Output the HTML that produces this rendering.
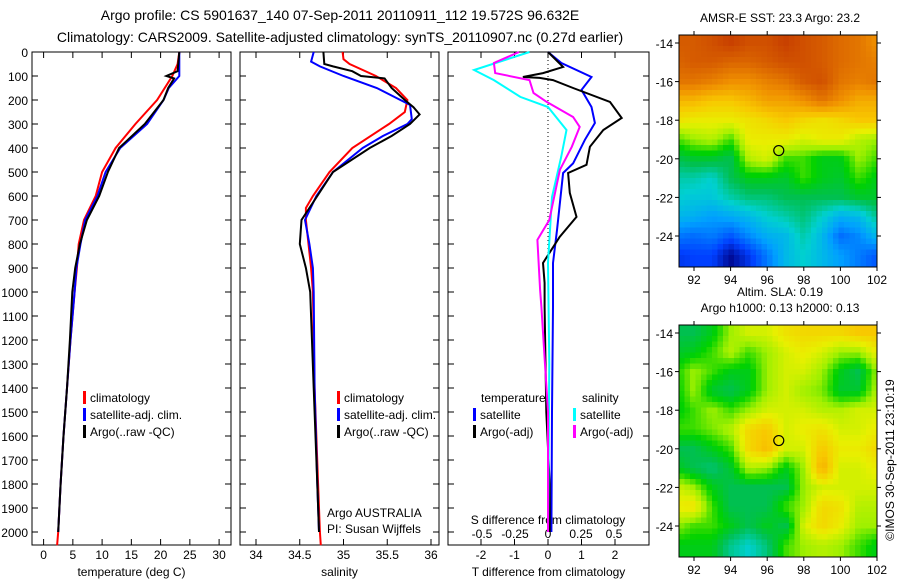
<!DOCTYPE html>
<html><head><meta charset="utf-8">
<style>
html,body{margin:0;padding:0;background:#fff;}
svg{display:block;font-family:"Liberation Sans",sans-serif;}
text{fill:#000;}
</style></head>
<body>
<svg id="fig" width="900" height="580" viewBox="0 0 900 580" xmlns="http://www.w3.org/2000/svg">
<g id="titles">
<text x="340" y="20" font-size="14" text-anchor="middle">Argo profile: CS 5901637_140 07-Sep-2011 20110911_112 19.572S 96.632E</text>
<text x="340" y="42" font-size="14" text-anchor="middle">Climatology: CARS2009. Satellite-adjusted climatology: synTS_20110907.nc (0.27d earlier)</text>
</g>
<g id="layer"></g>
</svg>
<script>
// ---------- Data ----------
const tempClimDepth=[0,50,100,200,300,400,500,600,700,800,900,1000,1200,1400,1600,1800,2000,2055];
const tempClim=[23.2,22.9,22.0,19.4,15.7,12.3,10.0,8.9,6.9,6.0,5.7,5.3,4.6,4.0,3.4,2.9,2.5,2.3];
const tempSatDepth=[0,100,150,200,300,400,500,600,700,800,900,1000,1200,1400,1600,1800,2000];
const tempSat=[23.2,23.2,21.4,20.5,17.7,13.1,10.6,9.2,7.1,6.3,5.6,5.3,4.6,4.0,3.4,2.9,2.5];
const tempArgoDepth=[0,80,100,110,150,200,300,400,500,600,700,800,900,1000,1200,1400,1600,1800,2000];
const tempArgo=[23.2,22.9,21.0,22.3,21.3,20.5,17.3,12.9,11.0,9.5,7.4,6.2,5.4,4.9,4.5,4.0,3.4,2.9,2.5];

const salClimDepth=[0,30,50,100,150,200,250,300,400,500,600,650,700,800,900,1000,1400,1800,2000,2055];
const salClim=[34.99,35.0,35.07,35.37,35.6,35.73,35.70,35.52,35.10,34.84,34.65,34.57,34.57,34.6,34.63,34.65,34.67,34.71,34.73,34.74];
const salSatDepth=[0,40,60,100,150,200,220,280,300,350,400,500,600,700,800,900,1000,1400,1800,2000];
const salSat=[34.66,34.63,34.73,35.0,35.38,35.65,35.76,35.78,35.73,35.45,35.22,34.88,34.69,34.56,34.61,34.65,34.66,34.67,34.70,34.72];
const salArgoDepth=[0,50,60,80,100,110,150,200,230,260,300,350,400,500,600,700,800,900,1000,1400,1800,2000];
const salArgo=[34.77,34.78,34.88,35.1,35.2,35.47,35.55,35.7,35.8,35.87,35.76,35.55,35.3,34.88,34.7,34.52,34.5,34.57,34.62,34.66,34.70,34.72];

const dTSatDepth=[0,46,104,158,229,296,366,464,504,742,879,1062,1500,2000];
const dTSat=[0,0.4,1.3,1.0,1.3,1.4,1.1,0.75,0.45,0.27,0.15,0.15,0.12,0.1];
const dTArgoDepth=[0,62,88,104,108,117,150,208,275,325,395,470,504,587,687,770,879,962,1062,1500,1800,2000];
const dTArgo=[0,0.45,-0.15,-0.75,-0.25,0.15,0.75,1.85,2.2,1.65,1.25,1.15,0.6,0.65,0.85,0.35,-0.15,-0.1,-0.1,-0.05,0.05,0.05];
const dSSatDepth=[0,75,117,187,229,325,437,604,879,1300,2000];
const dSSat=[-0.14,-0.56,-0.41,-0.21,0,0.14,0.1,0.03,0,0.01,0];
const dSArgoDepth=[0,46,88,117,171,208,271,312,395,491,700,783,991,1062,1500,2000];
const dSArgo=[-0.22,-0.41,-0.4,-0.14,-0.11,-0.01,0.19,0.24,0.18,0.09,0.01,-0.08,-0.06,-0.05,0,0];

const depthTicks=[0,100,200,300,400,500,600,700,800,900,1000,1100,1200,1300,1400,1500,1600,1700,1800,1900,2000];
const tempTicks=[0,5,10,15,20,25,30];
const salTicks=[34,34.5,35,35.5,36];
const dTTicks=[-2,-1,0,1,2];
const dSTicks=[-0.5,-0.25,0,0.25,0.5];
const dSTickLabels=["-0.5","-0.25","0","0.25","0.5"];

const mapLons=[92,94,96,98,100,102];
const mapLats=[-14,-16,-18,-20,-22,-24];
const argoLon=96.632, argoLat=-19.572;
// SST normalised field, rows lat -14..-25, cols lon 91..102
const sstGrid=[
[.95,.95,.97,1,.97,.97,1,.97,.95,.92,.9,.85],
[.93,.95,.95,.93,.93,.95,.97,.97,.95,.92,.9,.88],
[.9,.9,.88,.85,.85,.88,.9,.95,.97,.9,.88,.9],
[.78,.78,.75,.75,.78,.82,.82,.85,.9,.85,.8,.8],
[.7,.68,.68,.68,.7,.72,.75,.72,.7,.72,.75,.75],
[.55,.6,.62,.55,.68,.68,.68,.65,.68,.68,.62,.6],
[.45,.48,.48,.45,.62,.65,.55,.55,.5,.5,.6,.55],
[.38,.38,.35,.45,.5,.5,.48,.55,.5,.48,.55,.5],
[.35,.33,.33,.38,.42,.42,.45,.45,.45,.45,.48,.48],
[.3,.28,.25,.27,.3,.35,.38,.42,.35,.28,.3,.4],
[.2,.18,.2,.15,.22,.28,.3,.38,.3,.18,.22,.3],
[.1,.12,.12,.02,.1,.2,.3,.35,.3,.25,.2,.15]];
const slaGrid=[
[.45,.45,.5,.6,.65,.65,.7,.72,.72,.72,.75,.75],
[.48,.5,.55,.62,.55,.6,.65,.68,.65,.6,.6,.68],
[.52,.6,.55,.5,.5,.6,.65,.65,.6,.5,.45,.6],
[.5,.6,.48,.45,.5,.6,.65,.6,.58,.48,.48,.62],
[.5,.55,.6,.55,.6,.65,.65,.65,.62,.62,.65,.65],
[.55,.55,.58,.62,.72,.75,.65,.68,.7,.65,.65,.68],
[.45,.45,.5,.55,.72,.77,.65,.65,.75,.68,.68,.72],
[.5,.45,.42,.48,.62,.6,.5,.6,.8,.65,.65,.68],
[.65,.6,.5,.45,.45,.45,.45,.6,.65,.65,.65,.65],
[.68,.7,.55,.45,.45,.45,.55,.6,.72,.7,.62,.62],
[.6,.55,.55,.5,.45,.5,.45,.65,.72,.68,.6,.6],
[.5,.5,.5,.4,.35,.42,.55,.6,.62,.6,.55,.5]];

// ---------- Helpers ----------
const NS="http://www.w3.org/2000/svg";
const layer=document.getElementById('layer');
function mk(tag,attrs,parent){const e=document.createElementNS(NS,tag);for(const k in attrs)e.setAttribute(k,attrs[k]);(parent||layer).appendChild(e);return e;}
const Y0=52,YPX=0.24,PB=545;
const yD=d=>Y0+d*YPX;
const panels=[
 {x0:32,x1:231,sx:v=>43.6+5.85*v,ticks:tempTicks,labels:tempTicks.map(String),title:"temperature (deg C)",name:"temperature-panel"},
 {x0:240,x1:439,sx:v=>256+87.5*(v-34),ticks:salTicks,labels:salTicks.map(String),title:"salinity",name:"salinity-panel"},
 {x0:448,x1:649,sx:v=>548+33.5*v,ticks:dTTicks,labels:dTTicks.map(String),title:"T difference from climatology",name:"difference-panel"}
];
const sxS=v=>548+132*v;

panels.forEach((p,i)=>{
 const g=mk('g',{});
 
 
 const r=mk('rect',{x:p.x0,y:Y0,width:p.x1-p.x0,height:PB-Y0,fill:'none',stroke:'#000','stroke-width':1},g);
 
 
 depthTicks.forEach(d=>{
  mk('line',{x1:p.x0,x2:p.x0+6,y1:yD(d),y2:yD(d),stroke:'#000'},g);
  mk('line',{x1:p.x1,x2:p.x1-6,y1:yD(d),y2:yD(d),stroke:'#000'},g);
 });
 p.ticks.forEach((t,j)=>{
  const x=p.sx(t);
  mk('line',{x1:x,x2:x,y1:Y0,y2:Y0+6,stroke:'#000'},g);
  mk('line',{x1:x,x2:x,y1:PB,y2:PB-6,stroke:'#000'},g);
  const tx=mk('text',{x:x,y:PB+14,'font-size':12,'text-anchor':'middle'},g);
  tx.textContent=p.labels[j];
  
  
 });
 const tt=mk('text',{x:(p.x0+p.x1)/2,y:576,'font-size':12,'text-anchor':'middle'},g);
 tt.textContent=p.title;
 
 
});
depthTicks.forEach(d=>{
 const t=mk('text',{x:28,y:yD(d)+5,'font-size':12,'text-anchor':'end'});
 t.textContent=String(d);
 
 
});
// zero dotted line
const zl=mk('line',{x1:548,x2:548,y1:Y0,y2:yD(900),stroke:'#000','stroke-dasharray':'1,3'});


// S diff ticks inside
dSTicks.forEach((t,j)=>{
 const tx=mk('text',{x:sxS(t),y:538,'font-size':12,'text-anchor':'middle'});
 tx.textContent=dSTickLabels[j];
 
 
});
const sdt=mk('text',{x:548,y:524,'font-size':12,'text-anchor':'middle'});
sdt.textContent="S difference from climatology";



function line(depths,vals,sx,color,name){
 const pts=depths.map((d,i)=>sx(vals[i]).toFixed(1)+','+yD(d).toFixed(1)).join(' ');
 const e=mk('polyline',{points:pts,fill:'none',stroke:color,'stroke-width':2});
 
 
}
const p0=panels[0].sx,p1=panels[1].sx,p2=panels[2].sx;
line(tempClimDepth,tempClim,p0,'#f00','temp-climatology-line');
line(tempSatDepth,tempSat,p0,'#00f','temp-satellite-line');
line(tempArgoDepth,tempArgo,p0,'#000','temp-argo-line');
line(salClimDepth,salClim,p1,'#f00','sal-climatology-line');
line(salSatDepth,salSat,p1,'#00f','sal-satellite-line');
line(salArgoDepth,salArgo,p1,'#000','sal-argo-line');
line(dTSatDepth,dTSat,p2,'#00f','t-diff-satellite-line');
line(dTArgoDepth,dTArgo,p2,'#000','t-diff-argo-line');
line(dSSatDepth,dSSat,sxS,'#0ff','s-diff-satellite-line');
line(dSArgoDepth,dSArgo,sxS,'#f0f','s-diff-argo-line');

function legend(x,y,color,label){
 const g=mk('g',{});
 
 
 mk('rect',{x:x,y:y-11,width:3,height:13,fill:color},g);
 const t=mk('text',{x:x+7,y:y,'font-size':12},g);
 t.textContent=label;
}
legend(83,402,'#f00','climatology');legend(83,419,'#00f','satellite-adj. clim.');legend(83,436,'#000','Argo(..raw -QC)');
legend(337,402,'#f00','climatology');legend(337,419,'#00f','satellite-adj. clim.');legend(337,436,'#000','Argo(..raw -QC)');
const lt=mk('text',{x:481,y:402,'font-size':12});lt.textContent='temperature';

const ls=mk('text',{x:582,y:402,'font-size':12});ls.textContent='salinity';

legend(473,419,'#00f','satellite');legend(473,436,'#000','Argo(-adj)');
legend(573,419,'#0ff','satellite');legend(573,436,'#f0f','Argo(-adj)');
const a1=mk('text',{x:327,y:517,'font-size':12});a1.textContent='Argo AUSTRALIA';

const a2=mk('text',{x:327,y:533,'font-size':12});a2.textContent='PI: Susan Wijffels';


// ---------- Maps ----------
const cstops=[[0,[0,0,128]],[.12,[0,64,255]],[.25,[0,160,255]],[.35,[0,208,208]],[.45,[0,192,80]],[.52,[0,210,0]],[.6,[160,240,0]],[.67,[232,240,0]],[.75,[248,200,0]],[.85,[240,144,0]],[1,[200,64,0]]];
function cmap(v){v=Math.max(0,Math.min(1,v));for(let i=1;i<cstops.length;i++){if(v<=cstops[i][0]){const a=cstops[i-1],b=cstops[i];const f=(v-a[0])/(b[0]-a[0]);return 'rgb('+a[1].map((c,k)=>Math.round(c+(b[1][k]-c)*f)).join(',')+')';}}return 'rgb(200,64,0)';}
function drawMap(grid,top,name,title){
 const g=mk('g',{});
 
 
 const X0=679,X1=877,Y1=top+232;
 const lx=lon=>694+(lon-92)*18.3, ly=lat=>top+8+(-14-lat)*19.3;
 const cell=5.5;
 for(let y=top;y<Y1;y+=cell){for(let x=X0;x<X1;x+=cell){
  const lon=92+(x+cell/2-694)/18.3, lat=-14-((y+cell/2)-top-8)/19.3;
  let c=lon-91, r=-14-lat; c=Math.max(0,Math.min(10.999,c)); r=Math.max(0,Math.min(10.999,r));
  const ci=Math.floor(c),ri=Math.floor(r),fc=c-ci,fr=r-ri;
  const v=grid[ri][ci]*(1-fc)*(1-fr)+grid[ri][ci+1]*fc*(1-fr)+grid[ri+1][ci]*(1-fc)*fr+grid[ri+1][ci+1]*fc*fr;
  mk('rect',{x:x,y:y,width:Math.min(cell,X1-x)+0.3,height:Math.min(cell,Y1-y)+0.3,fill:cmap(v)},g);
 }}
 const fr=mk('rect',{x:X0,y:top,width:X1-X0,height:Y1-top,fill:'none',stroke:'#000'},g);
 
 
 mapLons.forEach(l=>{
  mk('line',{x1:lx(l),x2:lx(l),y1:top,y2:top-4,stroke:'#000'},g);
  mk('line',{x1:lx(l),x2:lx(l),y1:Y1,y2:Y1+4,stroke:'#000'},g);
  const t=mk('text',{x:lx(l),y:Y1+17,'font-size':12,'text-anchor':'middle'},g);t.textContent=String(l);
  
 });
 mapLats.forEach(l=>{
  mk('line',{x1:X0,x2:X0-4,y1:ly(l),y2:ly(l),stroke:'#000'},g);
  mk('line',{x1:X1,x2:X1+4,y1:ly(l),y2:ly(l),stroke:'#000'},g);
  const t=mk('text',{x:673,y:ly(l)+5,'font-size':12,'text-anchor':'end'},g);t.textContent=String(l);
  
 });
 const c=mk('circle',{cx:lx(argoLon),cy:ly(argoLat),r:5,fill:'none',stroke:'#000','stroke-width':1.2},g);
 
 
 title.forEach((s,i)=>{
  const t=mk('text',{x:780,y:top-(title.length-i)*16+3,'font-size':12,'text-anchor':'middle'},g);t.textContent=s;
  
 });
}
drawMap(sstGrid,35,'sst-map',['AMSR-E SST: 23.3 Argo: 23.2']);
drawMap(slaGrid,325,'sla-map',['Altim. SLA: 0.19','Argo h1000: 0.13 h2000: 0.13']);
const im=mk('text',{x:0,y:0,'font-size':12,'text-anchor':'middle',transform:'translate(894,460) rotate(-90)'});
im.textContent='©IMOS 30-Sep-2011 23:10:19';


</script>
</body></html>
